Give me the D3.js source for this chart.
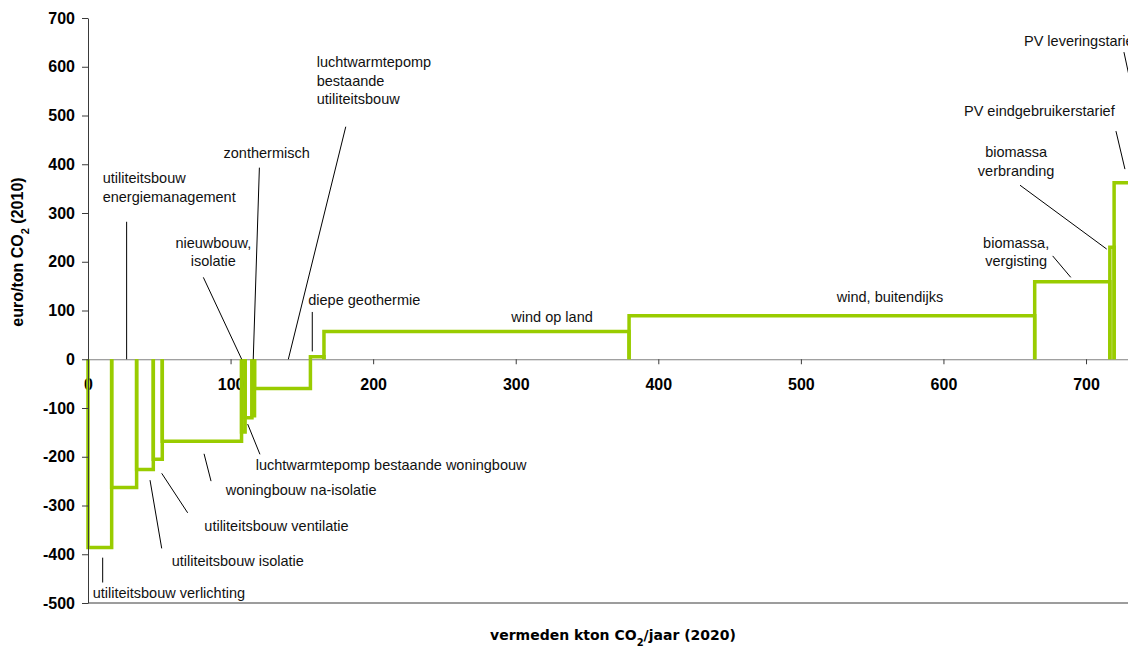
<!DOCTYPE html>
<html>
<head>
<meta charset="utf-8">
<script src="https://cdn.jsdelivr.net/npm/d3@7"></script>
<style>
  body { margin: 0; background: #fff; }
  .tick text { font-family: "Liberation Sans", Arial, sans-serif; font-weight: bold; font-size: 16px; fill: #000; }
  .note { font-family: "Liberation Sans", Arial, sans-serif; font-size: 14.5px; fill: #111; }
</style>
</head>
<body>
<div id="chart"></div>
<script>
// measures in order of cost (left to right)
var measures = [
    "utiliteitsbouw verlichting", "utiliteitsbouw energiemanagement", "utiliteitsbouw isolatie",
    "utiliteitsbouw ventilatie", "woningbouw na-isolatie", "nieuwbouw, isolatie",
    "luchtwarmtepomp bestaande woningbouw", "zonthermisch", "luchtwarmtepomp bestaande utiliteitsbouw",
    "diepe geothermie", "wind op land", "wind, buitendijks", "biomassa, vergisting",
    "biomassa verbranding", "PV eindgebruikerstarief"
];
// avoided kton CO2 per measure (bar width)
var potentials = [16.6, 17.5, 11.7, 6.3, 55.6, 2.5, 4.8, 1.8, 39.2, 9.5, 214.0, 284.5, 52.7, 3.0, 60.0];
// cost in euro/ton CO2 (bar height)
var costs = [-386, -263, -226, -205, -168, -149, -120, -116, -60, 5, 57, 89, 159, 230, 362];

var xTicks = [0, 100, 200, 300, 400, 500, 600, 700];
var yTicks = [-500, -400, -300, -200, -100, 0, 100, 200, 300, 400, 500, 600, 700];

// annotation texts, placed in data units (kton, euro)
var notes = [
    {lines: ["utiliteitsbouw verlichting"], x: 3.3, y: -480, anchor: "start", from: [10.3, -407], to: [10.3, -458]},
    {lines: ["utiliteitsbouw isolatie"], x: 58.7, y: -414, anchor: "start", from: [51.7, -388], to: [43.5, -248]},
    {lines: ["utiliteitsbouw ventilatie"], x: 81.6, y: -341, anchor: "start", from: [69.9, -315], to: [51.7, -234]},
    {lines: ["woningbouw na-isolatie"], x: 96.6, y: -268, anchor: "start", from: [86.3, -250], to: [81.4, -194]},
    {lines: ["luchtwarmtepomp bestaande woningbouw"], x: 117.6, y: -216, anchor: "start", from: [120.6, -195], to: [112, -133]},
    {lines: ["utiliteitsbouw", "energiemanagement"], x: 10.3, y: 371, anchor: "start", from: [27.1, 282], to: [27.1, 0]},
    {lines: ["nieuwbouw,", "isolatie"], x: 87.9, y: 239, anchor: "middle", from: [80.9, 168], to: [107.8, 0]},
    {lines: ["zonthermisch"], x: 125.3, y: 424, anchor: "middle", from: [120.2, 393], to: [115.9, 0]},
    {lines: ["luchtwarmtepomp", "bestaande", "utiliteitsbouw"], x: 160.4, y: 610, anchor: "start", from: [180.8, 477], to: [140.5, 0]},
    {lines: ["diepe geothermie"], x: 154.5, y: 121, anchor: "start", from: [157.3, 97], to: [157.3, 16]},
    {lines: ["wind op land"], x: 325.5, y: 86, anchor: "middle"},
    {lines: ["wind, buitendijks"], x: 562.5, y: 127, anchor: "middle"},
    {lines: ["biomassa,", "vergisting"], x: 651, y: 239, anchor: "middle", from: [676.6, 212], to: [689.3, 168]},
    {lines: ["biomassa", "verbranding"], x: 651, y: 425, anchor: "middle", from: [653.7, 357], to: [714.5, 226]},
    {lines: ["PV eindgebruikerstarief"], x: 614.4, y: 509, anchor: "start", from: [721, 468], to: [727.3, 390]},
    {lines: ["PV leveringstarief"], x: 656.5, y: 652, anchor: "start", from: [726.6, 630], to: [731, 570]}
];

var w = 1128;
var h = 646;

// cumulative start/end per measure
var bars = [];
var start = 0;
potentials.forEach(function(p, i) {
    bars.push({name: measures[i], x0: start, x1: start + p, cost: costs[i]});
    start += p;
});

var xScale = d3.scaleLinear()
               .domain([0, 800])
               .range([88, 1228.6]);
var yScale = d3.scaleLinear()
               .domain([-500, 700])
               .range([603, 18]);

var svg = d3.select("#chart")
            .append("svg")
            .attr("width", w)
            .attr("height", h)
            .style("background", "#fff");

// bottom border of plot area
svg.append("line")
   .attr("x1", xScale(0))
   .attr("x2", xScale(800))
   .attr("y1", yScale(-500))
   .attr("y2", yScale(-500))
   .attr("stroke", "#3a3a3a")
   .attr("stroke-width", 1);

// x axis runs through zero
var xAxis = d3.axisBottom(xScale)
              .tickValues(xTicks)
              .tickSize(5)
              .tickSizeOuter(0)
              .tickPadding(14);
var gx = svg.append("g")
   .attr("transform", "translate(0," + yScale(0) + ")")
   .call(xAxis);
gx.select(".domain").attr("stroke", "#808080");
gx.selectAll(".tick line").attr("stroke", "#3a3a3a");

// bars: open at zero, like a cost curve
svg.selectAll(".bar")
   .data(bars)
   .enter()
   .append("path")
   .attr("class", "bar")
   .attr("d", function(d) {
       return "M" + xScale(d.x0) + "," + yScale(0) +
              "V" + yScale(d.cost) +
              "H" + xScale(d.x1) +
              "V" + yScale(0);
   })
   .attr("fill", "none")
   .attr("stroke", "#99cc00")
   .attr("stroke-width", 3.5);

// plain hyphen for negatives, like the original
var yAxis = d3.axisLeft(yScale)
              .tickValues(yTicks)
              .tickFormat(function(d) { return String(d); })
              .tickSize(6)
              .tickSizeOuter(0)
              .tickPadding(7);
var gy = svg.append("g")
   .attr("transform", "translate(" + xScale(0) + ",0)")
   .call(yAxis);
gy.select(".domain").attr("stroke", "#3a3a3a");
gy.selectAll(".tick line").attr("stroke", "#3a3a3a");

// pointer lines
svg.selectAll(".pointer")
   .data(notes.filter(function(d) { return d.from; }))
   .enter()
   .append("line")
   .attr("class", "pointer")
   .attr("x1", function(d) { return xScale(d.from[0]); })
   .attr("y1", function(d) { return yScale(d.from[1]); })
   .attr("x2", function(d) { return xScale(d.to[0]); })
   .attr("y2", function(d) { return yScale(d.to[1]); })
   .attr("stroke", "#000")
   .attr("stroke-width", 1);

// annotation text
var noteText = svg.selectAll(".note")
   .data(notes)
   .enter()
   .append("text")
   .attr("class", "note")
   .attr("text-anchor", function(d) { return d.anchor; })
   .attr("x", function(d) { return xScale(d.x); })
   .attr("y", function(d) { return yScale(d.y); });
noteText.each(function(d) {
    var t = d3.select(this);
    d.lines.forEach(function(line, i) {
        t.append("tspan")
         .attr("x", xScale(d.x))
         .attr("dy", i == 0 ? "0.35em" : "18.6px")
         .text(line);
    });
});

// y axis title
var yTitle = svg.append("text")
   .attr("transform", "translate(23,252) rotate(-90)")
   .attr("text-anchor", "middle")
   .style("font-family", "'Liberation Sans', Arial, sans-serif")
   .style("font-weight", "bold")
   .style("font-size", "16px");
yTitle.append("tspan").text("euro/ton CO");
yTitle.append("tspan").attr("baseline-shift", "sub").style("font-size", "11px").text("2");
yTitle.append("tspan").text(" (2010)");

// x axis title
var xTitle = svg.append("text")
   .attr("x", 613)
   .attr("y", 640)
   .attr("text-anchor", "middle")
   .style("font-family", "'DejaVu Sans', Verdana, sans-serif")
   .style("font-weight", "bold")
   .style("font-size", "14px");
xTitle.append("tspan").text("vermeden kton CO");
xTitle.append("tspan").attr("baseline-shift", "sub").style("font-size", "10px").text("2");
xTitle.append("tspan").text("/jaar (2020)");
</script>
</body>
</html>
